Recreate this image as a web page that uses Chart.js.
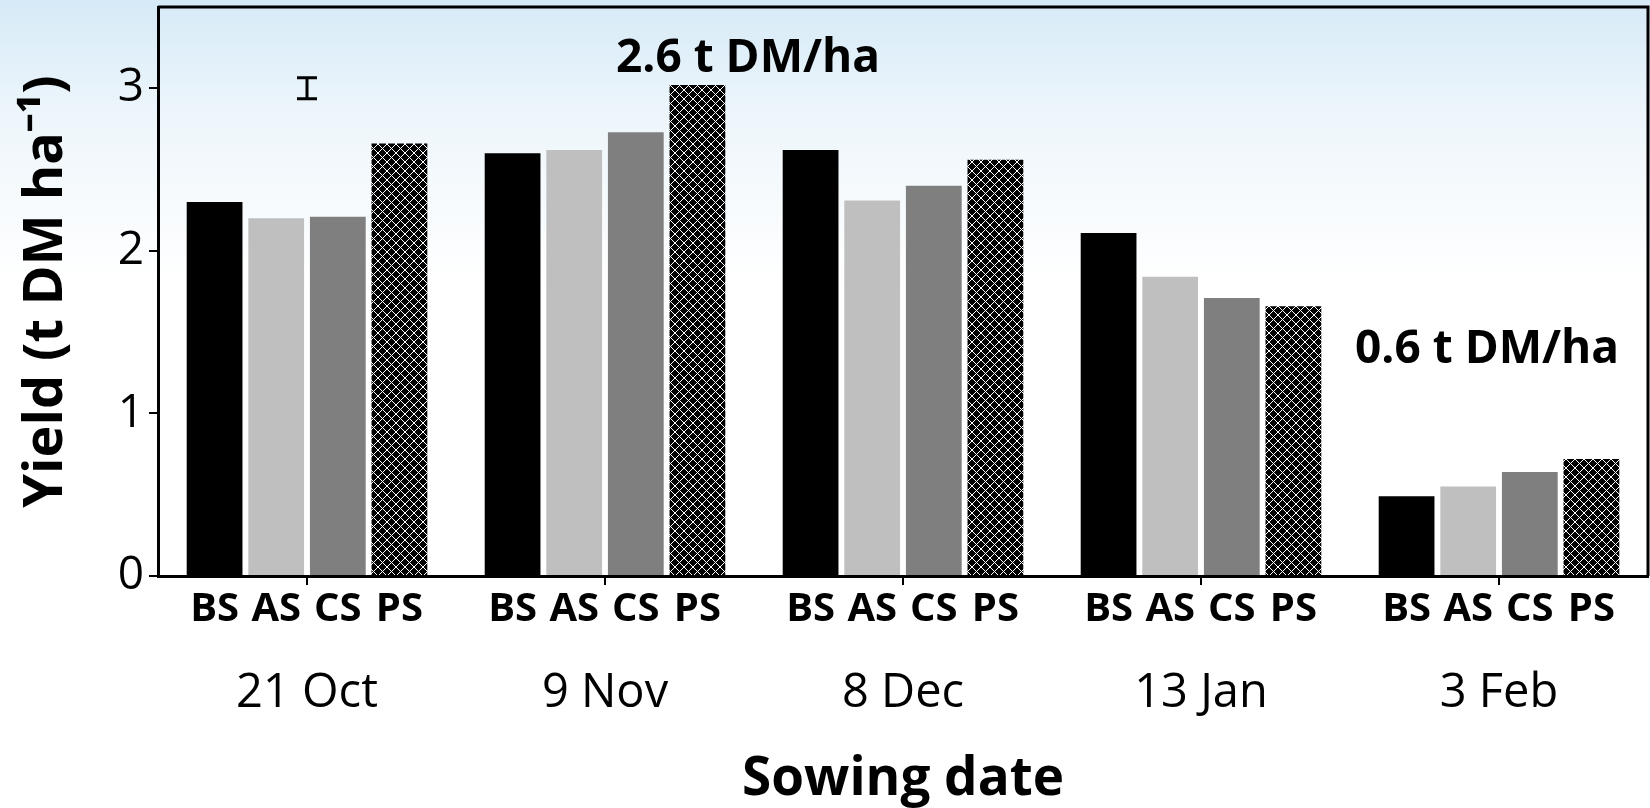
<!DOCTYPE html>
<html>
<head>
<meta charset="utf-8">
<script src="https://cdn.jsdelivr.net/npm/chart.js@4.4.1/dist/chart.umd.min.js"></script>
<style>
html, body { margin: 0; padding: 0; background: #fff; }
</style>
</head>
<body>
<canvas id="yieldChart" width="1650" height="808"></canvas>
<script>
const sowingDates = ['21 Oct', '9 Nov', '8 Dec', '13 Jan', '3 Feb'];
const treatments = ['BS', 'AS', 'CS', 'PS'];
const bsYield = [2.30, 2.60, 2.62, 2.11, 0.49];
const asYield = [2.20, 2.62, 2.31, 1.84, 0.55];
const csYield = [2.21, 2.73, 2.40, 1.71, 0.64];
const psYield = [2.66, 3.02, 2.56, 1.66, 0.72];
const yTicks = [0, 1, 2, 3];
// LSD bar drawn over the first sowing date
const lsdBar = { date: 0, value: 3.0, half: 0.065 };
// text notes, anchored in data units (category index, yield)
const notes = [
    { text: '2.6 t DM/ha', at: 1.48, y: 3.18 },
    { text: '0.6 t DM/ha', at: 3.96, y: 1.39 }
];

// black tile with white dotted diagonals -> diamond lattice
function lattice() {
    const n = 9;
    const c = document.createElement('canvas');
    c.width = n; c.height = n;
    const g = c.getContext('2d');
    g.fillStyle = '#000';
    g.fillRect(0, 0, n, n);
    g.fillStyle = '#fff';
    for (let i = 0; i < n; i++) {
        g.fillRect(i, i, 1, 1);
        g.fillRect(n - 1 - i, i, 1, 1);
    }
    return g.createPattern(c, 'repeat');
}

const sky = {
    id: 'sky',
    beforeDraw(chart) {
        const ctx = chart.ctx;
        const grad = ctx.createLinearGradient(0, 0, 0, chart.height);
        grad.addColorStop(0, '#d6eaf7');
        grad.addColorStop(0.15, '#eef6fb');
        grad.addColorStop(0.35, '#ffffff');
        grad.addColorStop(1, '#ffffff');
        ctx.save();
        ctx.fillStyle = grad;
        ctx.fillRect(0, 0, chart.width, chart.height);
        ctx.restore();
    }
};

const extras = {
    id: 'extras',
    afterDatasetsDraw(chart) {
        const ctx = chart.ctx;
        const area = chart.chartArea;
        const x = chart.scales.x, y = chart.scales.y;
        ctx.save();

        // box round the plot
        ctx.strokeStyle = '#000';
        ctx.lineWidth = 3;
        ctx.beginPath();
        ctx.moveTo(area.left, area.top);
        ctx.lineTo(area.right, area.top);
        ctx.lineTo(area.right, area.bottom);
        ctx.stroke();

        // treatment names under each bar
        ctx.fillStyle = '#000';
        ctx.font = 'bold 40px "Open Sans"';
        ctx.textAlign = 'center';
        ctx.textBaseline = 'alphabetic';
        chart.data.datasets.forEach((ds, i) => {
            chart.getDatasetMeta(i).data.forEach(bar => {
                ctx.fillText(ds.label, bar.x, area.bottom + 45);
            });
        });

        // LSD bar
        const lx = x.getPixelForValue(lsdBar.date);
        const top = y.getPixelForValue(lsdBar.value + lsdBar.half);
        const bot = y.getPixelForValue(lsdBar.value - lsdBar.half);
        ctx.lineWidth = 3;
        ctx.beginPath();
        ctx.moveTo(lx, top); ctx.lineTo(lx, bot);
        ctx.moveTo(lx - 10, top); ctx.lineTo(lx + 10, top);
        ctx.moveTo(lx - 10, bot); ctx.lineTo(lx + 10, bot);
        ctx.stroke();

        // notes
        ctx.font = 'bold 46px "Open Sans"';
        ctx.textBaseline = 'middle';
        notes.forEach(n => {
            ctx.fillText(n.text, x.getPixelForValue(n.at), y.getPixelForValue(n.y));
        });
        ctx.restore();
    }
};

const ctx = document.getElementById('yieldChart').getContext('2d');
const psFill = lattice();

const yieldChart = new Chart(ctx, {
    type: 'bar',
    data: {
        labels: sowingDates,
        datasets: [
            { label: treatments[0], data: bsYield, backgroundColor: '#000000' },
            { label: treatments[1], data: asYield, backgroundColor: '#bfbfbf' },
            { label: treatments[2], data: csYield, backgroundColor: '#7f7f7f' },
            { label: treatments[3], data: psYield, backgroundColor: psFill }
        ]
    },
    options: {
        responsive: false,
        animation: false,
        categoryPercentage: 0.827,
        barPercentage: 0.905,
        layout: { padding: { top: 7, right: 2, left: 0, bottom: 0 } },
        plugins: {
            legend: { display: false },
            tooltip: { enabled: false }
        },
        scales: {
            x: {
                afterFit(scale) {
                    scale.height = 232;
                    scale.paddingLeft = 0;
                    scale.paddingRight = 0;
                },
                grid: { offset: false, drawOnChartArea: false, tickLength: 9, lineWidth: 2, color: '#000' },
                border: { display: true, width: 3, color: '#000' },
                ticks: {
                    color: '#000',
                    font: { family: 'Open Sans', size: 47 },
                    padding: 80,
                    maxRotation: 0,
                    autoSkip: false
                },
                title: {
                    display: true,
                    text: 'Sowing date',
                    color: '#000',
                    font: { family: 'Open Sans', size: 53, weight: 'bold', lineHeight: 1 },
                    padding: { top: 0, bottom: 2 }
                }
            },
            y: {
                min: 0,
                max: 3.5,
                afterFit(scale) {
                    scale.width = 158;
                    scale.paddingTop = 0;
                    scale.paddingBottom = 0;
                },
                afterBuildTicks(scale) { scale.ticks = yTicks.map(v => ({ value: v })); },
                grid: { drawOnChartArea: false, tickLength: 9, lineWidth: 2, color: '#000' },
                border: { display: true, width: 3, color: '#000' },
                ticks: {
                    color: '#000',
                    font: { family: 'Open Sans', size: 46 },
                    padding: 5
                },
                title: {
                    display: true,
                    text: 'Yield (t DM ha\u207B\u00B9)',
                    color: '#000',
                    font: { family: 'Open Sans', size: 54, weight: 'bold', lineHeight: 1.2 },
                    padding: { top: 14, bottom: 0 }
                }
            }
        }
    },
    plugins: [sky, extras]
});
</script>
</body>
</html>
